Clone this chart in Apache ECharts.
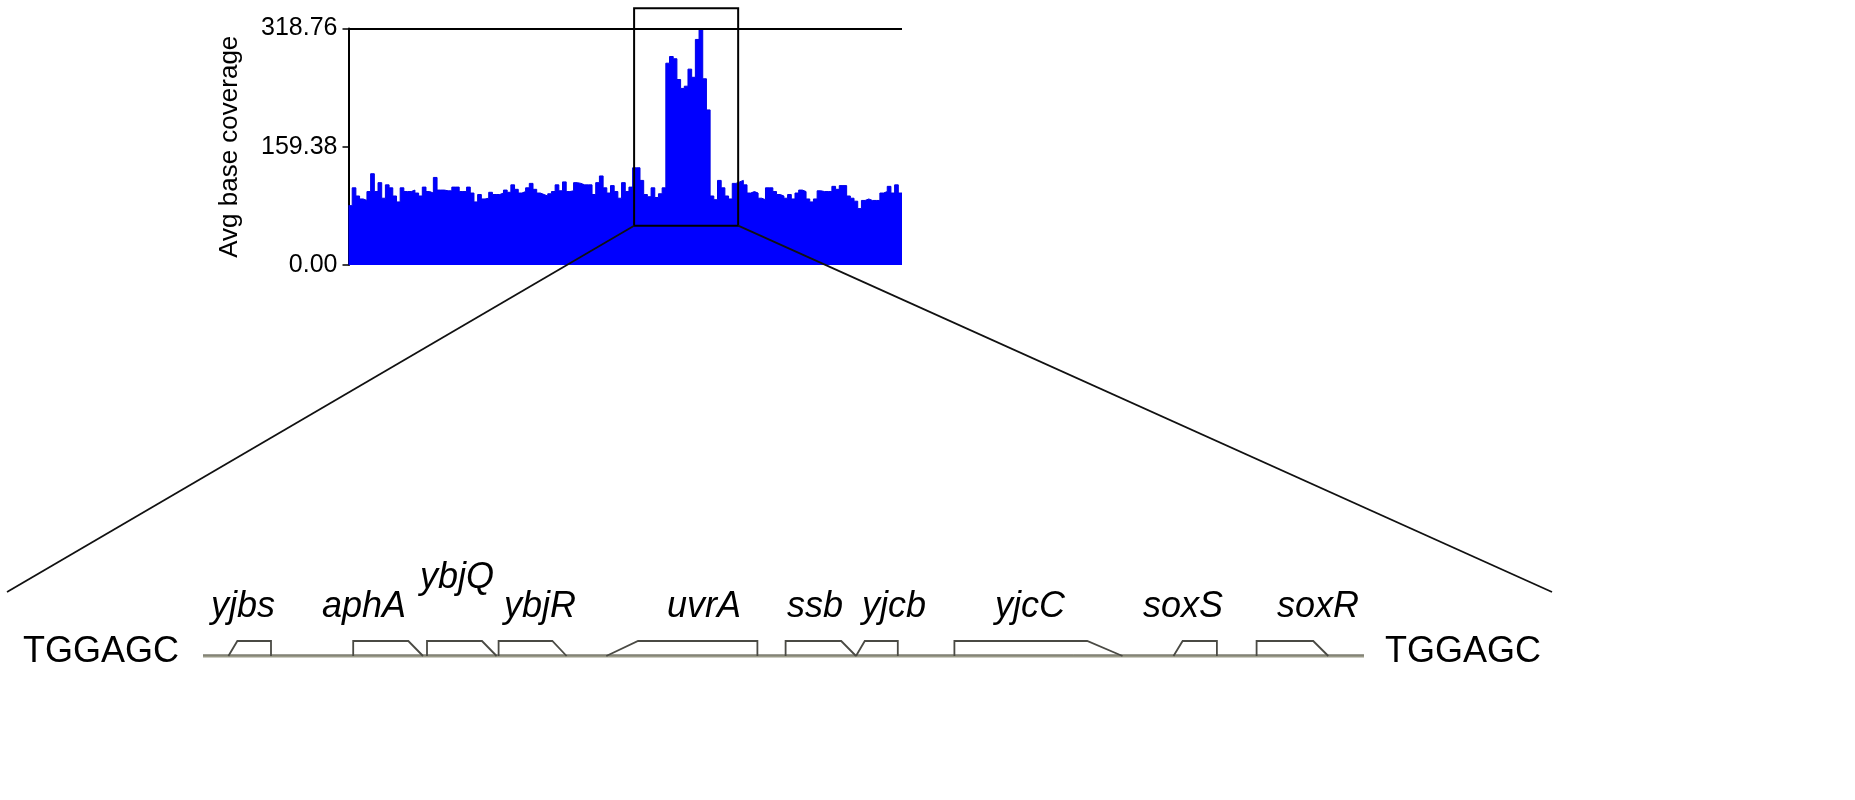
<!DOCTYPE html>
<html>
<head>
<meta charset="utf-8">
<script src="https://cdn.jsdelivr.net/npm/echarts@6/dist/echarts.min.js"></script>
<style>
html,body{margin:0;padding:0;background:#fff;}
#chart{width:1855px;height:800px;}
</style>
</head>
<body>
<div id="chart"></div>
<script>
// ---- coverage histogram (avg base coverage per bin) ----
const COVERAGE = [
  80,104,93,89,87,99,123,99,111,90,
  108,104,93,85,104,99,99,101,97,93,
  105,99,97,118,101,101,100,100,105,105,
  99,99,105,97,85,95,89,90,98,95,
  95,97,101,98,108,102,97,99,104,110,
  102,97,95,93,96,99,108,100,112,99,
  100,111,110,108,108,108,95,111,120,104,
  97,107,99,90,111,99,105,131,131,114,
  95,92,104,91,96,104,272,281,278,250,
  238,241,264,253,304,318.76,251,209,93,88,
  114,104,93,89,110,112,114,108,97,99,
  97,90,88,104,104,99,95,93,90,95,
  89,97,101,99,89,85,89,100,99,99,
  99,106,102,107,107,93,90,86,76,87,
  89,87,87,87,97,99,106,97,108,97
];
const Y_MAX = 318.76;
const Y_TICK = 159.38;

// zoom window on the coverage plot (bin index range, coverage range)
const ZOOM_BINS = [77.4, 105.6];
const ZOOM_COVER = [53, 346];

// ---- zoomed gene track (track units) ----
const WINDOW = [0, 15450];
const TRACK = [1960, 13570];
const FLANK_SEQ = ['TGGAGC', 'TGGAGC'];
const GENE_NAMES = ['yjbs','aphA','ybjQ','ybjR','uvrA','ssb','yjcb','yjcC','soxS','soxR'];
const GENE_START = [2214,3462,4200,4916,5993,7786,8490,9474,11665,12496];
const GENE_END   = [2640,4160,4896,5596,7504,8490,8908,11155,12099,13213];
const GENE_STRAND = [-1,1,1,1,-1,1,-1,1,-1,1];
const LABEL_POS = [2360,3570,4500,5330,6970,8080,8870,10230,11760,13110];
const LABEL_ROW = [0,0,1,0,0,0,0,0,0,0];

const FONT = '"Liberation Sans", Arial, Helvetica, sans-serif';

const covData = COVERAGE.map((v, i) => [i, v]);
covData.push([COVERAGE.length, COVERAGE[COVERAGE.length - 1]]);

const geneData = GENE_NAMES.map((n, i) => [GENE_START[i], GENE_END[i], GENE_STRAND[i], LABEL_POS[i], LABEL_ROW[i]]);

const chart = echarts.init(document.getElementById('chart'), null, {renderer: 'canvas'});

const option = {
  animation: false,
  backgroundColor: '#ffffff',
  grid: [
    {left: 348.5, top: 28.5, width: 553.5, height: 236.5},
    {left: 7, top: 592, width: 1545, height: 64}
  ],
  xAxis: [
    {gridIndex: 0, type: 'value', min: 0, max: COVERAGE.length, show: false},
    {gridIndex: 1, type: 'value', min: WINDOW[0], max: WINDOW[1], show: false}
  ],
  yAxis: [
    {
      gridIndex: 0, type: 'value', min: 0, max: Y_MAX, interval: Y_TICK,
      name: 'Avg base coverage', nameLocation: 'middle', nameGap: 106,
      nameTextStyle: {fontSize: 26, color: '#000', fontFamily: FONT},
      axisLine: {show: true, lineStyle: {color: '#000', width: 2}},
      axisTick: {show: true, length: 6, lineStyle: {color: '#000', width: 1.5}},
      axisLabel: {fontSize: 25, color: '#000', fontFamily: FONT, margin: 11,
        formatter: v => v.toFixed(2)},
      splitLine: {show: false}
    },
    {gridIndex: 1, type: 'value', min: 0, max: 1, show: false}
  ],
  series: [
    {
      type: 'line', xAxisIndex: 0, yAxisIndex: 0, step: 'end',
      symbol: 'none', data: covData,
      lineStyle: {color: '#0000e6', width: 1},
      areaStyle: {color: '#0000ff', opacity: 1},
      markLine: {
        silent: true, symbol: 'none', label: {show: false},
        lineStyle: {color: '#000', width: 2, type: 'solid'},
        data: [{yAxis: Y_MAX}]
      },
      z: 2
    },
    {
      type: 'custom', xAxisIndex: 0, yAxisIndex: 0, clip: false, silent: true,
      data: [[ZOOM_BINS[0], ZOOM_BINS[1], ZOOM_COVER[0], ZOOM_COVER[1]]],
      renderItem: function (params, api) {
        const a = api.coord([api.value(0), api.value(3)]);
        const b = api.coord([api.value(1), api.value(2)]);
        return {
          type: 'rect',
          shape: {x: a[0], y: a[1], width: b[0] - a[0], height: b[1] - a[1]},
          style: {fill: 'none', stroke: '#000', lineWidth: 2}
        };
      },
      z: 5
    },
    {
      type: 'custom', xAxisIndex: 1, yAxisIndex: 1, clip: false, silent: true,
      data: [[TRACK[0], TRACK[1]]],
      renderItem: function (params, api) {
        const a = api.coord([api.value(0), 0]);
        const b = api.coord([api.value(1), 0]);
        return {
          type: 'group',
          children: [
            {type: 'line', shape: {x1: a[0], y1: a[1], x2: b[0], y2: b[1]},
             style: {stroke: '#9a9a88', lineWidth: 3}},
            {type: 'line', shape: {x1: a[0], y1: a[1] - 1, x2: b[0], y2: b[1] - 1},
             style: {stroke: '#6f6f64', lineWidth: 1}},
            {type: 'text', style: {text: FLANK_SEQ[0], x: a[0] - 24, y: a[1] - 4,
              align: 'right', verticalAlign: 'middle', fill: '#000',
              font: '36px ' + FONT}},
            {type: 'text', style: {text: FLANK_SEQ[1], x: b[0] + 21, y: b[1] - 4,
              align: 'left', verticalAlign: 'middle', fill: '#000',
              font: '36px ' + FONT}}
          ]
        };
      },
      z: 3
    },
    {
      type: 'custom', xAxisIndex: 1, yAxisIndex: 1, clip: false, silent: true,
      data: geneData,
      renderItem: function (params, api) {
        const s = api.coord([api.value(0), 0]);
        const e = api.coord([api.value(1), 0]);
        const strand = api.value(2);
        const lab = api.coord([api.value(3), 0]);
        const row = api.value(4);
        const h = 15;
        const y0 = s[1];
        const head = 0.21 * (e[0] - s[0]);
        let pts;
        if (strand > 0) {
          pts = [[s[0], y0], [s[0], y0 - h], [e[0] - head, y0 - h], [e[0], y0]];
        } else {
          pts = [[s[0], y0], [s[0] + head, y0 - h], [e[0], y0 - h], [e[0], y0]];
        }
        return {
          type: 'group',
          children: [
            {type: 'polyline', shape: {points: pts},
             style: {fill: 'none', stroke: '#4a4a44', lineWidth: 1.8}},
            {type: 'text', style: {text: GENE_NAMES[params.dataIndex],
              x: lab[0], y: y0 - 49 - row * 29,
              align: 'center', verticalAlign: 'middle', fill: '#000',
              font: 'italic 36px ' + FONT}}
          ]
        };
      },
      z: 4
    }
  ]
};

chart.setOption(option);

// connecting lines from the zoom box to the gene-track window
const bl = chart.convertToPixel({seriesIndex: 1}, [ZOOM_BINS[0], ZOOM_COVER[0]]);
const br = chart.convertToPixel({seriesIndex: 1}, [ZOOM_BINS[1], ZOOM_COVER[0]]);
const tl = chart.convertToPixel({seriesIndex: 3}, [WINDOW[0], 1]);
const tr = chart.convertToPixel({seriesIndex: 3}, [WINDOW[1], 1]);
chart.setOption({
  graphic: [
    {type: 'line', silent: true, z: 10, shape: {x1: bl[0], y1: bl[1], x2: tl[0], y2: tl[1]},
     style: {stroke: '#111', lineWidth: 1.8}},
    {type: 'line', silent: true, z: 10, shape: {x1: br[0], y1: br[1], x2: tr[0], y2: tr[1]},
     style: {stroke: '#111', lineWidth: 1.8}}
  ]
});
</script>
</body>
</html>
